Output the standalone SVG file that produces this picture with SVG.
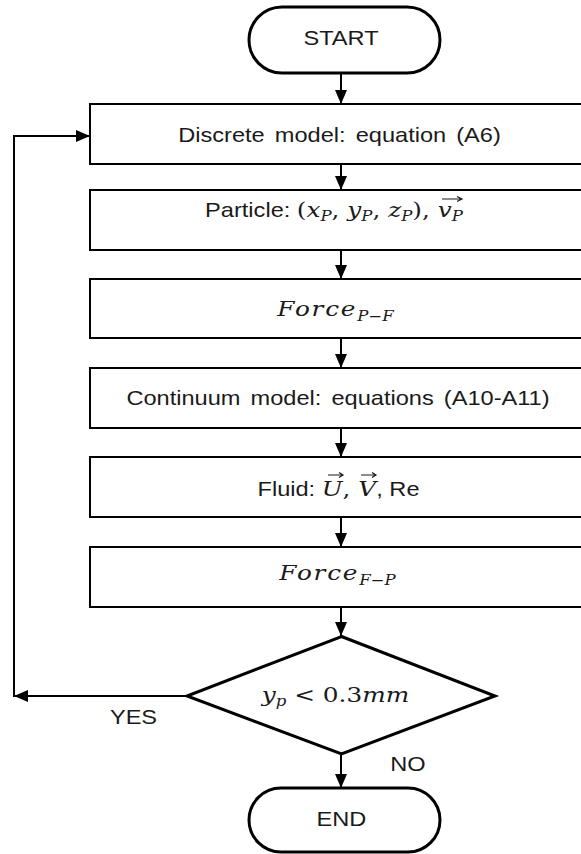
<svg xmlns="http://www.w3.org/2000/svg" width="581" height="854" viewBox="0 0 581 854">
<style>
  .box { fill: #fff; stroke: #000; stroke-width: 2; }
  .pill { fill: #fff; stroke: #000; stroke-width: 3; }
  .dia { fill: #fff; stroke: #000; stroke-width: 3; }
  .conn { fill: none; stroke: #000; stroke-width: 2; }
  .vec { fill: none; stroke: #1a1a1a; stroke-width: 1.2; }
  .t { font-family: "Liberation Sans", Arial, sans-serif; font-size: 20px; fill: #1a1a1a; }
  .m { font-family: "DejaVu Serif", "Liberation Serif", serif; font-style: italic; font-size: 21px; fill: #1a1a1a; }
  .mu { font-family: "DejaVu Serif", "Liberation Serif", serif; font-style: normal; font-size: 21px; fill: #1a1a1a; }
  .sub { font-size: 14px; }
</style>
<defs>
  <marker id="ah" markerWidth="14" markerHeight="12" refX="14" refY="6" orient="auto" markerUnits="userSpaceOnUse">
    <path d="M0,0 L14,6 L0,12 z" fill="#000"/>
  </marker>
</defs>
<rect width="581" height="854" fill="#fff"/>

<g id="connectors">
  <path class="conn" d="M341,73 V104" marker-end="url(#ah)"/>
  <path class="conn" d="M341,164 V190" marker-end="url(#ah)"/>
  <path class="conn" d="M341,250 V279" marker-end="url(#ah)"/>
  <path class="conn" d="M341,338 V368" marker-end="url(#ah)"/>
  <path class="conn" d="M341,428 V457" marker-end="url(#ah)"/>
  <path class="conn" d="M341,517 V547" marker-end="url(#ah)"/>
  <path class="conn" d="M341,607 V636" marker-end="url(#ah)"/>
  <path class="conn" d="M341,754 V788" marker-end="url(#ah)"/>
  <path class="conn" d="M187,696 H14" marker-end="url(#ah)"/>
  <path class="conn" d="M14,697 V136 H90" marker-end="url(#ah)"/>
  <g transform="translate(133.5,724) scale(1.18,1)"><text class="t" x="0" y="0" text-anchor="middle">YES</text></g>
  <g transform="translate(408,771) scale(1.18,1)"><text class="t" x="0" y="0" text-anchor="middle">NO</text></g>
</g>

<g id="start">
  <rect class="pill" x="249" y="7" width="191" height="66" rx="33"/>
  <g transform="translate(341,45) scale(1.18,1)"><text class="t" x="0" y="0" text-anchor="middle">START</text></g>
</g>

<g id="discrete">
  <rect class="box" x="90" y="104" width="502" height="60"/>
  <g transform="translate(339.5,141.5) scale(1.18,1)"><text class="t" x="0" y="0" text-anchor="middle" word-spacing="3">Discrete model: equation (A6)</text></g>
</g>

<g id="particle">
  <rect class="box" x="90" y="190" width="502" height="60"/>
  <g transform="translate(334,217) scale(1.18,1)"><text x="0" y="0" text-anchor="middle"><tspan class="t">Particle: </tspan><tspan class="mu">(</tspan><tspan class="m">x</tspan><tspan class="m sub" dy="4">P</tspan><tspan class="mu" dy="-4">, </tspan><tspan class="m">y</tspan><tspan class="m sub" dy="4">P</tspan><tspan class="mu" dy="-4">, </tspan><tspan class="m">z</tspan><tspan class="m sub" dy="4">P</tspan><tspan class="mu" dy="-4">), </tspan><tspan class="m">v</tspan><tspan class="m sub" dy="4">P</tspan></text></g>
  <path class="vec" d="M442,199 H462 M457,196.5 L462,199 L457,201.5"/>
</g>

<g id="force-pf">
  <rect class="box" x="90" y="279" width="502" height="59"/>
  <g transform="translate(335.5,316) scale(1.18,1)"><text x="0" y="0" text-anchor="middle"><tspan class="m" letter-spacing="1.5">Force</tspan><tspan class="m sub" dy="5">P−F</tspan></text></g>
</g>

<g id="continuum">
  <rect class="box" x="90" y="368" width="502" height="60"/>
  <g transform="translate(338,405) scale(1.18,1)"><text class="t" x="0" y="0" text-anchor="middle" word-spacing="3">Continuum model: equations (A10-A11)</text></g>
</g>

<g id="fluid">
  <rect class="box" x="90" y="457" width="502" height="60"/>
  <g transform="translate(338.5,496) scale(1.18,1)"><text x="0" y="0" text-anchor="middle"><tspan class="t">Fluid: </tspan><tspan class="m">U</tspan><tspan class="mu">, </tspan><tspan class="m">V</tspan><tspan class="t">, Re</tspan></text></g>
  <path class="vec" d="M328,475 H343 M339,472.5 L343,475 L339,477.5"/>
  <path class="vec" d="M361,475 H376 M372,472.5 L376,475 L372,477.5"/>
</g>

<g id="force-fp">
  <rect class="box" x="90" y="547" width="502" height="60"/>
  <g transform="translate(337.5,580) scale(1.18,1)"><text x="0" y="0" text-anchor="middle"><tspan class="m" letter-spacing="1.5">Force</tspan><tspan class="m sub" dy="5">F−P</tspan></text></g>
</g>

<g id="decision">
  <path class="dia" d="M341.5,636.5 L495,696 L341.5,754 L187,696 Z"/>
  <g transform="translate(335.5,702) scale(1.18,1)"><text x="0" y="0" text-anchor="middle"><tspan class="m">y</tspan><tspan class="m sub" dy="4">p</tspan><tspan class="mu" dy="-4"> &lt; 0.3</tspan><tspan class="m">mm</tspan></text></g>
</g>

<g id="end">
  <rect class="pill" x="249" y="788" width="191" height="64" rx="32"/>
  <g transform="translate(341.5,826) scale(1.18,1)"><text class="t" x="0" y="0" text-anchor="middle">END</text></g>
</g>
</svg>
